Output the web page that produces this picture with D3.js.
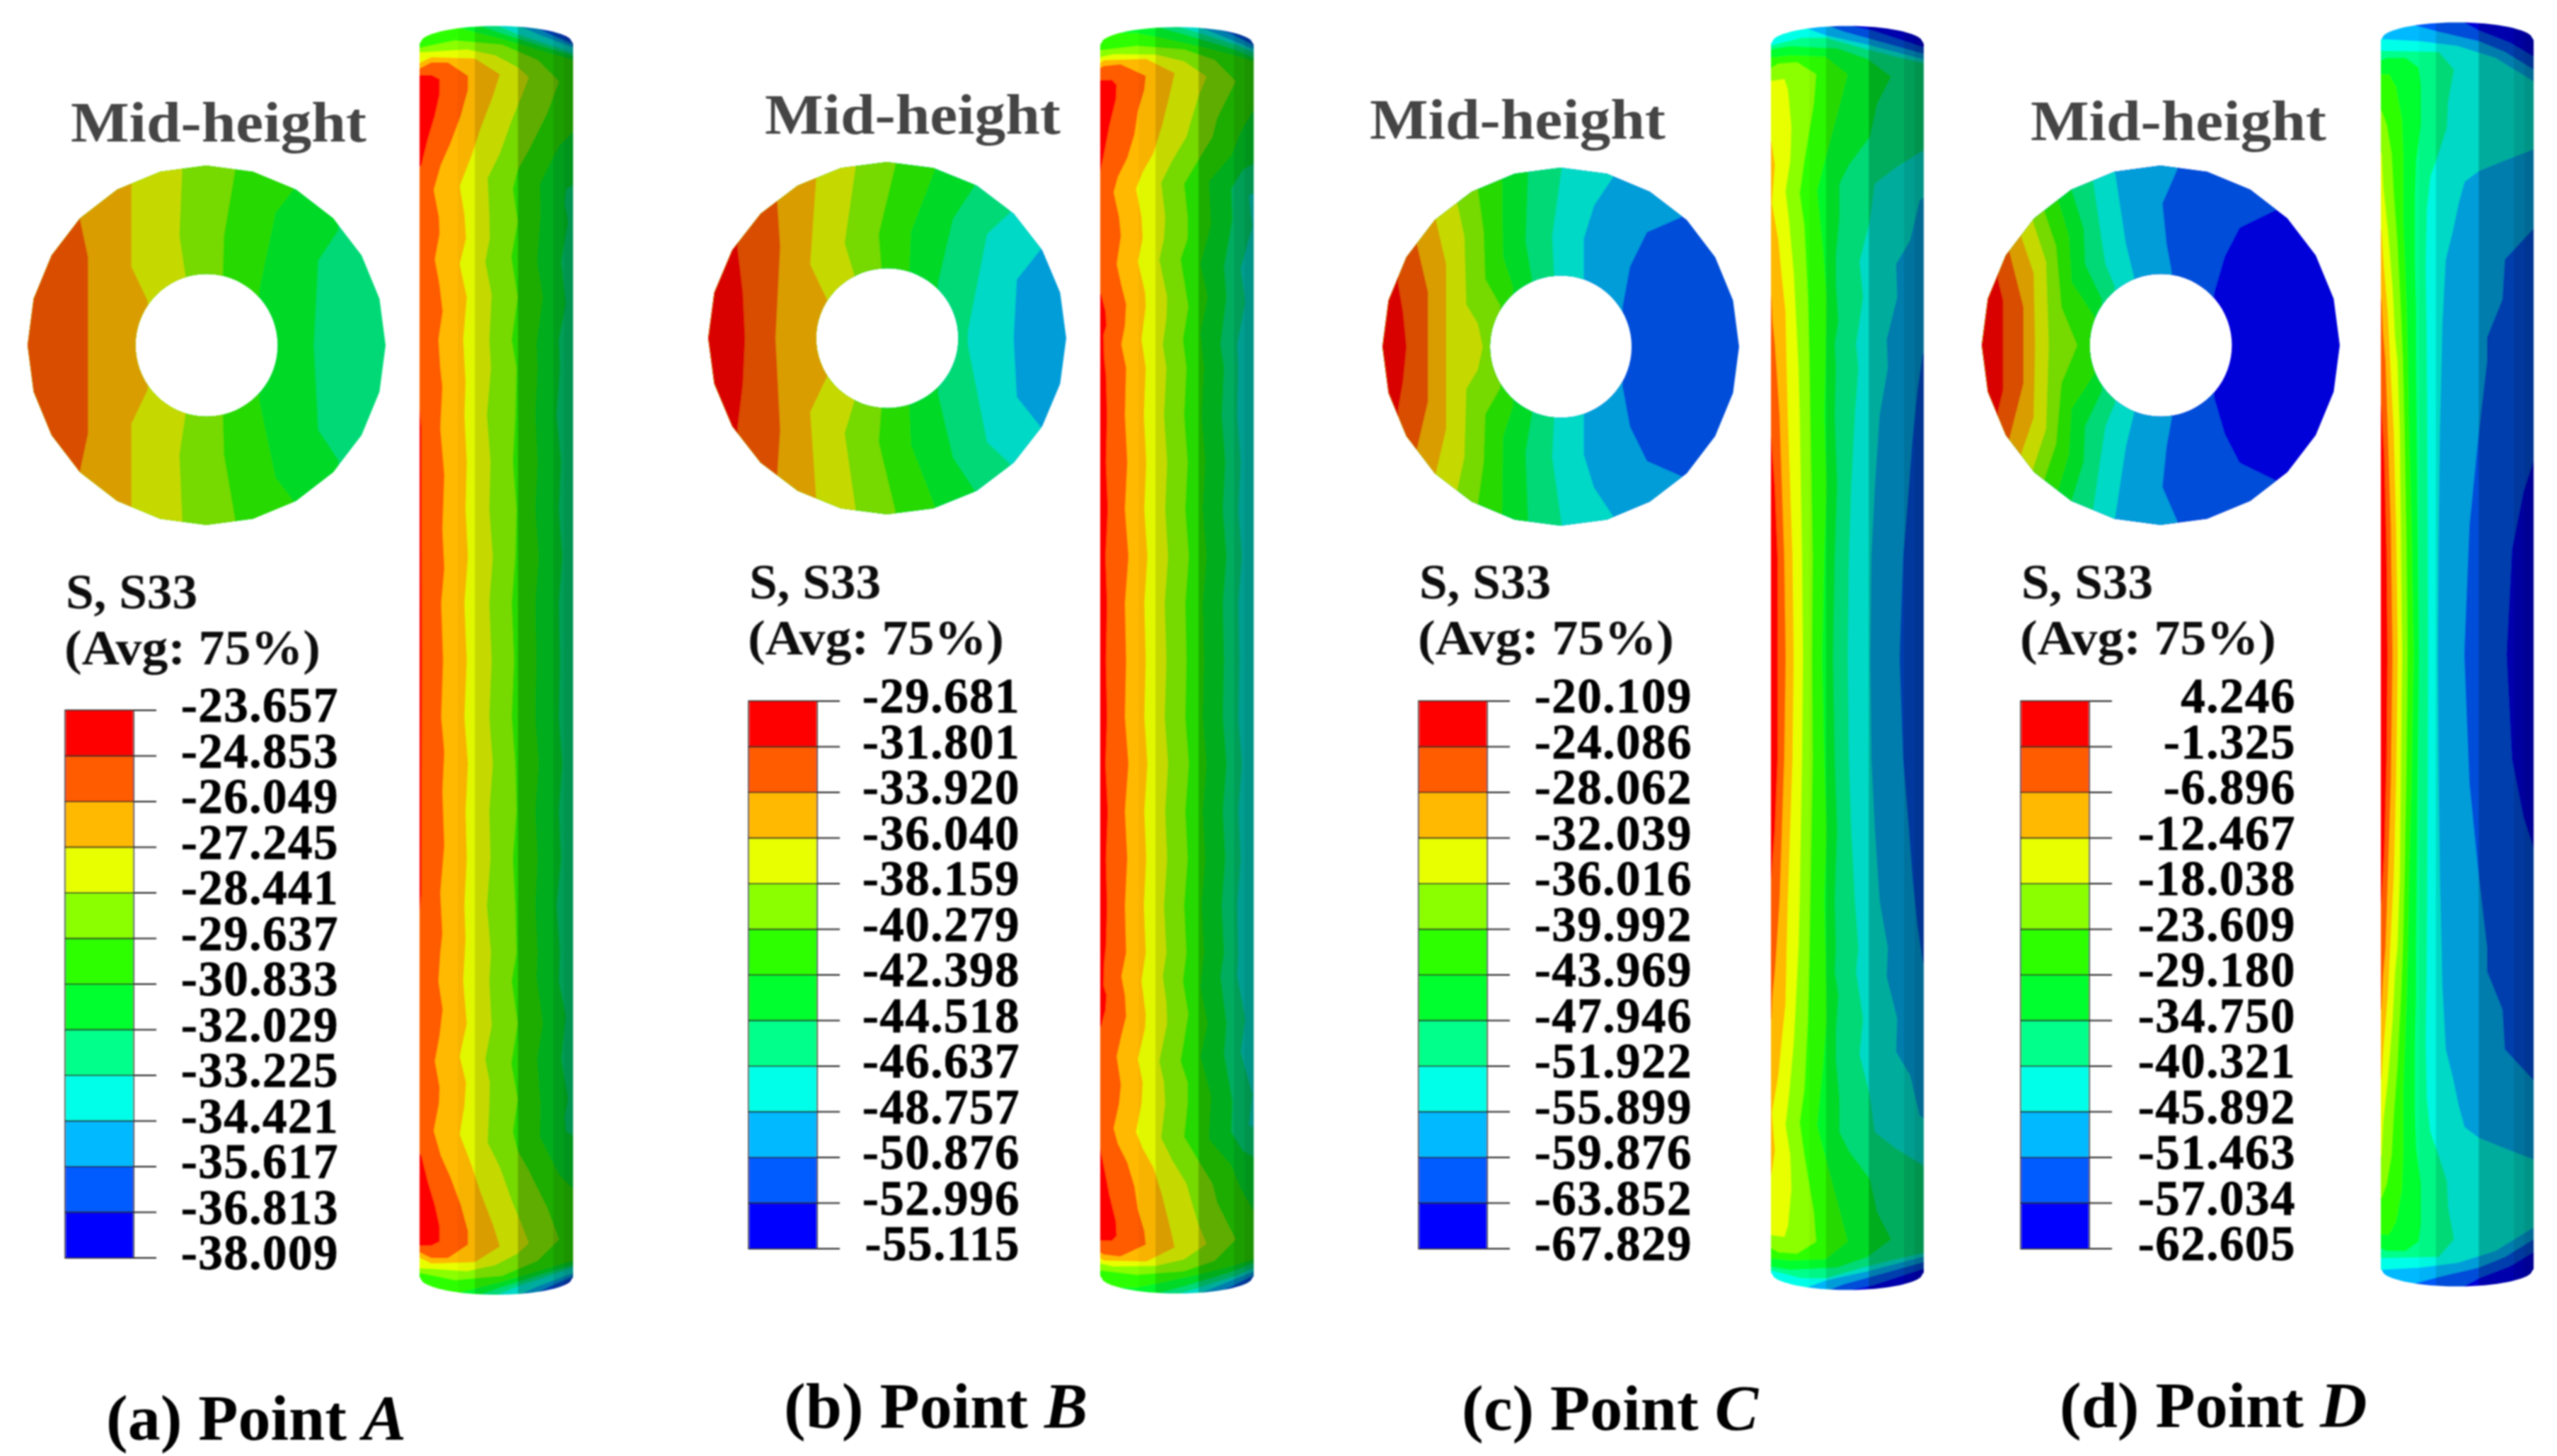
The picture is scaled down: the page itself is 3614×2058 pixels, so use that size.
<!DOCTYPE html>
<html>
<head>
<meta charset="utf-8">
<style>
  html, body { margin: 0; background: #fff; }
  text { font-family: "Liberation Serif", serif; font-weight: bold; }
</style>
</head>
<body>
<svg id="figure"></svg>
<script src="https://cdn.jsdelivr.net/npm/d3@7"></script>
<script>
// Contour band colours, hottest to coolest
const bandColors = ["#ff0000", "#ff5c00", "#ffb900", "#e8ff00", "#8bff00", "#2eff00",
    "#00ff2e", "#00ff8b", "#00ffe8", "#00b9ff", "#005cff", "#0000ff"];

// Legend labels
const legendA = ["-23.657", "-24.853", "-26.049", "-27.245", "-28.441", "-29.637", "-30.833", "-32.029", "-33.225", "-34.421", "-35.617", "-36.813", "-38.009"];
const legendB = ["-29.681", "-31.801", "-33.920", "-36.040", "-38.159", "-40.279", "-42.398", "-44.518", "-46.637", "-48.757", "-50.876", "-52.996", "-55.115"];
const legendC = ["-20.109", "-24.086", "-28.062", "-32.039", "-36.016", "-39.992", "-43.969", "-47.946", "-51.922", "-55.899", "-59.876", "-63.852", "-67.829"];
const legendD = ["4.246", "-1.325", "-6.896", "-12.467", "-18.038", "-23.609", "-29.180", "-34.750", "-40.321", "-45.892", "-51.463", "-57.034", "-62.605"];

// Mid-height section: band boundaries as [x, |y|] on the unit section
const ringA = [
    [[-.662, 0], [-.662, .49], [-.707, .70]],
    [[-.30, 0], [-.33, .25], [-.42, .437], [-.42, .894]],
    [[-.118, .384], [-.152, .61], [-.136, .98]],
    [[.09, .39], [.097, .61], [.159, .97]],
    [[.295, .31], [.385, .736], [.487, .868]],
    [[.60, 0], [.624, .47], [.737, .64]]
];
const ringB = [
    [[-.794, 0], [-.806, .26], [-.836, .512]],
    [[-.624, 0], [-.598, .52], [-.614, .77]],
    [[-.336, .218], [-.43, .419], [-.397, .904]],
    [[-.185, .36], [-.238, .54], [-.177, .97]],
    [[-.033, .397], [-.048, .59], [.047, .99]],
    [[.123, .39], [.133, .605], [.267, .957]],
    [[.285, .318], [.368, .677], [.489, .864]],
    [[.45, 0], [.452, .046], [.558, .59], [.686, .713]],
    [[.706, 0], [.724, .333], [.858, .505]]
];
const ringC = [
    [[-.865, 0], [-.884, .19], [-.912, .355]],
    [[-.745, 0], [-.745, .306], [-.806, .568]],
    [[-.643, 0], [-.643, .46], [-.70, .705]],
    [[-.438, 0], [-.466, .129], [-.53, .235], [-.541, .617], [-.58, .795]],
    [[-.339, .228], [-.424, .377], [-.433, .646], [-.466, .88]],
    [[-.268, .334], [-.324, .504], [-.329, .93]],
    [[-.161, .377], [-.197, .589], [-.183, .969]],
    [[-.037, .398], [-.048, .618], [.006, 1]],
    [[.129, .377], [.129, .603], [.186, .788], [.292, .946]],
    [[.346, .221], [.388, .448], [.483, .639], [.677, .724]]
];
const ringD = [
    [[-.88, 0], [-.88, .248], [-.909, .367]],
    [[-.767, 0], [-.767, .212], [-.846, .522]],
    [[-.702, 0], [-.71, .402], [-.778, .60]],
    [[-.626, 0], [-.641, .466], [-.713, .684]],
    [[-.467, 0], [-.555, .212], [-.585, .55], [-.649, .74]],
    [[-.369, .156], [-.498, .353], [-.513, .606], [-.57, .796]],
    [[-.328, .255], [-.422, .451], [-.43, .648], [-.498, .866]],
    [[-.256, .325], [-.309, .451], [-.339, .648], [-.377, .909]],
    [[-.15, .381], [-.195, .564], [-.256, .965]],
    [[.062, .402], [.032, .564], [.009, .789], [.092, .979]],
    [[.297, .29], [.357, .494], [.44, .655], [.644, .754]]
];

// Column surface: band boundaries as [across, along], top end down to mid-height
const columnA = [
    [[90, 258], [150, 258], [185, 275], [185, 340], [165, 430], [135, 530], [108, 640], [90, 660], [92, 1600], [108, 1750], [110, 2740]],
    [[90, 235], [150, 205], [220, 205], [305, 262], [305, 320], [275, 430], [230, 550], [190, 640], [160, 745], [182, 860], [185, 930], [165, 1040], [185, 1150], [198, 1260], [180, 1380], [188, 1500], [197, 1580], [188, 1754], [205, 1955], [197, 2183], [205, 2350], [192, 2500], [200, 2740]],
    [[90, 212], [150, 182], [335, 188], [440, 255], [410, 350], [360, 480], [320, 600], [270, 730], [290, 850], [297, 950], [270, 1060], [300, 1200], [285, 1380], [295, 1560], [290, 1700], [300, 1900], [295, 2100], [305, 2300], [290, 2500], [300, 2740]],
    [[90, 162], [150, 160], [300, 150], [420, 175], [515, 225], [562, 268], [535, 340], [490, 450], [440, 590], [388, 695], [395, 850], [397, 950], [378, 1050], [405, 1190], [395, 1380], [402, 1500], [385, 1700], [400, 1900], [395, 2100], [410, 2300], [395, 2500], [405, 2740]],
    [[90, 145], [250, 112], [450, 130], [600, 195], [690, 285], [640, 420], [560, 580], [515, 660], [495, 740], [515, 880], [488, 1030], [515, 1200], [490, 1380], [510, 1500], [505, 1700], [495, 1900], [510, 2100], [505, 2300], [490, 2500], [500, 2740]],
    [[200, 40], [330, 75], [450, 105], [600, 150], [770, 200], [770, 480], [690, 560], [610, 720], [612, 860], [598, 1050], [622, 1200], [595, 1400], [600, 1500], [590, 1700], [600, 1900], [590, 2100], [605, 2300], [590, 2500], [595, 2740]],
    [[330, 40], [450, 82], [600, 130], [770, 182], [770, 715], [722, 740], [715, 800], [730, 880], [700, 1050], [720, 1230], [690, 1380], [695, 1500], [680, 1700], [700, 1900], [690, 2100], [705, 2300], [690, 2500], [695, 2740]],
    [[410, 40], [515, 85], [650, 130], [770, 172], [770, 2740]],
    [[500, 40], [600, 85], [770, 150], [770, 2740]],
    [[560, 40], [650, 85], [770, 138], [770, 2740]],
    [[620, 40], [700, 85], [770, 128], [770, 2740]]
];
const columnB = [
    [[35, 280], [95, 278], [115, 300], [112, 360], [85, 470], [62, 590], [45, 670], [35, 680], [35, 1170], [50, 1190], [68, 1260], [72, 1320], [60, 1360], [62, 1450], [70, 1530], [75, 1700], [70, 1900], [78, 2100], [68, 2300], [75, 2500], [70, 2740]],
    [[35, 235], [60, 220], [130, 212], [180, 235], [238, 262], [232, 320], [205, 410], [190, 510], [160, 610], [120, 690], [102, 755], [125, 860], [133, 940], [115, 1060], [135, 1150], [155, 1230], [150, 1320], [135, 1400], [155, 1500], [150, 1700], [160, 1900], [150, 2100], [165, 2300], [150, 2500], [155, 2740]],
    [[35, 215], [60, 195], [240, 190], [360, 250], [340, 340], [305, 480], [270, 590], [225, 670], [197, 740], [220, 860], [225, 950], [205, 1050], [235, 1180], [238, 1240], [220, 1380], [238, 1500], [230, 1700], [240, 1900], [232, 2100], [245, 2300], [232, 2500], [238, 2740]],
    [[35, 185], [100, 170], [280, 172], [400, 200], [495, 265], [460, 350], [430, 450], [410, 520], [350, 620], [303, 715], [320, 860], [315, 950], [295, 1040], [328, 1200], [325, 1290], [310, 1400], [325, 1500], [315, 1700], [328, 1900], [320, 2100], [332, 2300], [318, 2500], [325, 2740]],
    [[35, 155], [200, 135], [400, 150], [530, 195], [618, 285], [580, 360], [540, 440], [520, 520], [465, 610], [400, 720], [415, 860], [415, 950], [385, 1040], [418, 1240], [395, 1380], [410, 1500], [400, 1700], [415, 1900], [405, 2100], [420, 2300], [405, 2500], [410, 2740]],
    [[200, 80], [300, 100], [460, 135], [600, 170], [710, 205], [710, 400], [695, 405], [640, 500], [600, 600], [505, 710], [515, 890], [470, 1060], [500, 1200], [470, 1350], [485, 1500], [475, 1700], [490, 1900], [480, 2100], [495, 2300], [480, 2500], [485, 2740]],
    [[270, 50], [400, 85], [600, 145], [710, 190], [710, 625], [650, 660], [600, 740], [605, 870], [570, 1070], [580, 1200], [555, 1400], [570, 1500], [560, 1700], [575, 1900], [565, 2100], [580, 2300], [565, 2500], [570, 2740]],
    [[350, 45], [480, 85], [620, 130], [710, 170], [710, 750], [675, 770], [690, 900], [640, 1080], [660, 1220], [625, 1400], [630, 1500], [625, 1700], [640, 1900], [630, 2100], [645, 2300], [630, 2500], [635, 2740]],
    [[440, 45], [540, 85], [710, 155], [710, 2740]],
    [[490, 40], [600, 85], [710, 140], [710, 2740]],
    [[550, 40], [650, 85], [710, 125], [710, 2740]]
];
const columnC = [
    [[58, 1750], [70, 1800], [85, 2000], [97, 2300], [97, 2730]],
    [[58, 1180], [70, 1200], [75, 1300], [85, 1400], [92, 1500], [105, 1700], [115, 2000], [125, 2300], [131, 2730]],
    [[58, 530], [70, 540], [85, 640], [72, 800], [100, 960], [115, 1120], [130, 1260], [135, 1500], [140, 1700], [150, 2000], [160, 2300], [165, 2730]],
    [[58, 285], [125, 275], [140, 320], [155, 480], [150, 620], [130, 750], [145, 880], [165, 1100], [175, 1300], [185, 1500], [190, 1700], [195, 2000], [200, 2300], [204, 2730]],
    [[58, 235], [100, 210], [180, 205], [260, 255], [250, 380], [210, 620], [190, 760], [210, 900], [225, 1200], [232, 1500], [235, 1700], [240, 2000], [245, 2300], [242, 2730]],
    [[58, 185], [150, 175], [300, 180], [395, 255], [365, 370], [330, 500], [290, 650], [265, 750], [280, 900], [290, 1000], [305, 1200], [300, 1500], [295, 1700], [305, 2000], [295, 2300], [286, 2730]],
    [[58, 150], [150, 135], [350, 145], [480, 190], [580, 265], [520, 380], [490, 520], [400, 640], [360, 720], [360, 860], [345, 1020], [345, 1150], [355, 1300], [340, 1400], [345, 1500], [340, 1700], [350, 2000], [340, 2300], [333, 2730]],
    [[58, 135], [200, 100], [300, 100], [480, 150], [600, 180], [730, 210], [730, 570], [600, 650], [510, 720], [488, 880], [445, 1050], [460, 1200], [430, 1400], [440, 1500], [425, 1700], [410, 2000], [400, 2300], [395, 2730]],
    [[220, 60], [300, 90], [480, 130], [730, 195], [730, 770], [700, 790], [660, 960], [600, 1060], [605, 1200], [560, 1380], [565, 1500], [530, 1700], [510, 2000], [495, 2300], [490, 2730]],
    [[300, 45], [380, 75], [490, 105], [730, 172], [730, 1400], [712, 1450], [690, 1600], [670, 1800], [655, 2000], [630, 2300], [615, 2730]],
    [[385, 45], [500, 70], [730, 145], [730, 2730]]
];
const columnD = [
    [[65, 1650], [78, 1700], [90, 1900], [100, 2300], [104, 2745]],
    [[65, 1230], [78, 1240], [85, 1380], [95, 1500], [105, 1800], [118, 2200], [125, 2745]],
    [[65, 935], [78, 945], [85, 1060], [105, 1300], [115, 1500], [130, 1800], [140, 2200], [147, 2745]],
    [[65, 610], [78, 620], [85, 760], [105, 950], [125, 1200], [135, 1400], [145, 1500], [155, 1800], [165, 2745]],
    [[65, 430], [78, 440], [100, 500], [120, 620], [130, 800], [145, 1000], [160, 1300], [168, 1500], [175, 1800], [182, 2200], [188, 2745]],
    [[65, 285], [110, 285], [140, 340], [165, 480], [170, 620], [170, 900], [178, 1100], [185, 1300], [190, 1500], [195, 1800], [205, 2200], [214, 2745]],
    [[65, 230], [100, 215], [180, 215], [235, 255], [245, 330], [245, 500], [225, 650], [220, 800], [220, 1100], [225, 1300], [225, 1500], [228, 1800], [232, 2200], [237, 2745]],
    [[65, 185], [320, 190], [385, 265], [360, 400], [355, 510], [320, 620], [285, 720], [270, 860], [265, 1100], [268, 1300], [270, 1500], [272, 1800], [274, 2200], [276, 2745]],
    [[65, 135], [240, 145], [400, 165], [560, 215], [730, 320], [730, 600], [600, 650], [490, 695], [430, 740], [405, 830], [380, 950], [350, 1070], [335, 1350], [332, 1500], [325, 1800], [320, 2200], [316, 2745]],
    [[210, 75], [320, 105], [490, 145], [600, 190], [730, 270], [730, 930], [600, 1070], [590, 1240], [525, 1400], [525, 1500], [490, 1800], [450, 2200], [428, 2745]],
    [[400, 50], [490, 100], [620, 150], [730, 215], [730, 1900], [680, 2050], [630, 2300], [620, 2500], [607, 2745]]
];

// Facets of the column surface: start across the width, and how much it is dimmed
const facetStarts = [0, .25, .36, .64, .87, .94];
const facetDim = [0, .03, .15, .32, .38, .42];

const panels = [
    { letter: "a", point: "A", legend: legendA, ring: ringA, ringFirst: 1, column: columnA,
      barX: 92, barTop: 1004, titleY: 860, labelEnd: 479,
      midX: 100, midY: 200, ringC: [292, 488], ringR: [253, 254],
      acrossRead: [100, 750], acrossPx: [593, 810], cropY: 20, midRead: 2740, shoulderRead: 125,
      captionX: 150, captionY: 2035 },
    { letter: "b", point: "B", legend: legendB, ring: ringB, ringFirst: 0, column: columnB,
      barX: 1058, barTop: 991, titleY: 846, labelEnd: 1442,
      midX: 1081, midY: 189, ringC: [1254, 478], ringR: [253, 249],
      acrossRead: [45, 695], acrossPx: [1555, 1772], cropY: 20, midRead: 2740, shoulderRead: 130,
      captionX: 1108, captionY: 2018 },
    { letter: "c", point: "C", legend: legendC, ring: ringC, ringFirst: 0, column: columnC,
      barX: 2005, barTop: 991, titleY: 846, labelEnd: 2392,
      midX: 1936, midY: 196, ringC: [2206, 490], ringR: [252, 253],
      acrossRead: [68, 718], acrossPx: [2503, 2719], cropY: 20, midRead: 2730, shoulderRead: 125,
      captionX: 2066, captionY: 2021 },
    { letter: "d", point: "D", legend: legendD, ring: ringD, ringFirst: 0, column: columnD,
      barX: 2856, barTop: 991, titleY: 846, labelEnd: 3245,
      midX: 2870, midY: 198, ringC: [3054, 488], ringR: [253, 254],
      acrossRead: [75, 722], acrossPx: [3365, 3581], cropY: 10, midRead: 2745, shoulderRead: 140,
      captionX: 2911, captionY: 2017 }
];

const width = 3614, height = 2058;
const svg = d3.select("#figure").attr("width", width).attr("height", height);

// The reference is a soft upscaled image, a slight blur brings that back
svg.append("defs").append("filter").attr("id", "soft")
    .append("feGaussianBlur").attr("stdDeviation", 1.1);

const line = d3.line();
const dim = (c, k) => { const r = d3.rgb(c); return d3.rgb(r.r * k, r.g * k, r.b * k).formatHex(); };

const root = svg.append("g").attr("filter", "url(#soft)");

panels.forEach(function(p) {
    const g = root.append("g");
    drawRing(g, p);
    drawColumn(g, p);
    drawLegend(g, p);

    g.append("text").text("Mid-height")
        .attr("x", p.midX).attr("y", p.midY)
        .attr("font-size", 81).attr("fill", "#444")
        .attr("textLength", 418).attr("lengthAdjust", "spacingAndGlyphs");

    const caption = g.append("text")
        .attr("x", p.captionX).attr("y", p.captionY)
        .attr("font-size", 92).attr("fill", "#000");
    caption.append("tspan").text("(" + p.letter + ") Point ");
    caption.append("tspan").text(p.point).attr("font-style", "italic");
});

// Section at mid-height, a 24-sided ring cut by the band boundaries
function drawRing(g, p) {
    const x = d3.scaleLinear().domain([-1, 1]).range([p.ringC[0] - p.ringR[0], p.ringC[0] + p.ringR[0]]);
    const y = d3.scaleLinear().domain([-1, 1]).range([p.ringC[1] + p.ringR[1], p.ringC[1] - p.ringR[1]]);
    const id = "ring-" + p.letter;

    const polygon = (r, n) => d3.range(n).map(i => {
        const a = i / n * 2 * Math.PI;
        return [x(r * Math.sin(a)), y(r * Math.cos(a))];
    });
    const outline = line(polygon(1, 24)) + "Z" + line(polygon(.397, 72)) + "Z";
    g.append("clipPath").attr("id", id).append("path")
        .attr("d", outline).attr("clip-rule", "evenodd");

    const section = g.append("g").attr("clip-path", "url(#" + id + ")");
    const n = p.ring.length;
    section.append("rect")
        .attr("x", x(-1.1)).attr("y", y(1.1))
        .attr("width", x(1.1) - x(-1.1)).attr("height", y(-1.1) - y(1.1))
        .attr("fill", dim(bandColors[p.ringFirst + n], .85));

    // hottest region last, each one covers everything to the left of its boundary
    d3.range(n - 1, -1, -1).forEach(function(k) {
        const b = p.ring[k];
        const last = b[b.length - 1];
        const upper = b.map(d => [x(d[0]), y(d[1])]);
        upper.push([x(last[0]), y(1.2)]);
        const lower = b.map(d => [x(d[0]), y(-d[1])]).reverse();
        lower.unshift([x(last[0]), y(-1.2)]);
        const shape = lower.concat(upper, [[x(-1.2), y(1.2)], [x(-1.2), y(-1.2)]]);
        section.append("path")
            .attr("d", line(shape) + "Z")
            .attr("fill", dim(bandColors[p.ringFirst + k], .85));
    });
}

function drawColumn(g, p) {
    const x = d3.scaleLinear().domain(p.acrossRead).range(p.acrossPx);
    const end = p.midRead * 2;
    const y = d3.scaleLinear().domain([0, end]).range([p.cropY, p.cropY + end / 3]);
    const u = d3.scaleLinear().domain([0, 1]).range(p.acrossRead);
    const rise = 75;
    const id = "column-" + p.letter;

    // outline: rounded ends on a straight shaft
    const arc = d3.range(0, 1.0001, .02).map(t => [t, Math.sqrt(Math.max(0, 1 - (2 * t - 1) ** 2))]);
    const topEdge = arc.map(d => [x(u(d[0])), y(p.shoulderRead - rise * d[1])]);
    const bottomEdge = arc.map(d => [x(u(d[0])), y(end - p.shoulderRead + rise * d[1])]).reverse();
    g.append("clipPath").attr("id", id).append("path")
        .attr("d", line(topEdge.concat(bottomEdge)) + "Z");

    const body = g.append("g").attr("clip-path", "url(#" + id + ")");
    body.append("rect")
        .attr("x", p.acrossPx[0]).attr("y", y(0))
        .attr("width", p.acrossPx[1] - p.acrossPx[0]).attr("height", y(end) - y(0))
        .attr("fill", bandColors[p.column.length]);

    const offX = p.acrossRead[0] - 100;
    d3.range(p.column.length - 1, -1, -1).forEach(function(k) {
        const c = p.column[k];
        const down = c.map(d => [x(d[0]), y(d[1])]);
        const up = c.map(d => [x(d[0]), y(end - d[1])]).reverse();
        const closing = [[x(offX), y(end - c[0][1])], [x(offX), y(c[0][1])]];
        body.append("path")
            .attr("d", line(down.concat(up, closing)) + "Z")
            .attr("fill", bandColors[k]);
    });

    // vertical facets get darker towards the right
    facetStarts.forEach(function(s, i) {
        const next = i + 1 < facetStarts.length ? facetStarts[i + 1] : 1;
        body.append("rect")
            .attr("x", x(u(s))).attr("y", y(0))
            .attr("width", x(u(next)) - x(u(s))).attr("height", y(end) - y(0))
            .attr("fill", "#000").attr("fill-opacity", facetDim[i]);
    });
}

function drawLegend(g, p) {
    const levels = d3.range(p.legend.length);
    const y = d3.scaleLinear().domain([0, 12]).range([p.barTop, p.barTop + 774]);
    const barWidth = 97, tickEnd = 129;

    g.selectAll(null).data(bandColors).enter().append("rect")
        .attr("x", p.barX).attr("y", (d, i) => y(i))
        .attr("width", barWidth).attr("height", y(1) - y(0))
        .attr("fill", d => d);
    g.append("rect")
        .attr("x", p.barX).attr("y", y(0))
        .attr("width", barWidth).attr("height", y(12) - y(0))
        .attr("fill", "none").attr("stroke", "#555").attr("stroke-width", 2);

    g.selectAll(null).data(levels).enter().append("line")
        .attr("x1", p.barX).attr("x2", p.barX + tickEnd)
        .attr("y1", d => y(d)).attr("y2", d => y(d))
        .attr("stroke", "#222").attr("stroke-width", 2);

    g.selectAll(null).data(p.legend).enter().append("text")
        .text(d => d)
        .attr("x", p.labelEnd).attr("y", (d, i) => y(i) + 16)
        .attr("text-anchor", "end").attr("font-size", 69)
        .attr("letter-spacing", 1.5).attr("fill", "#000")
        .attr("stroke", "#000").attr("stroke-width", .8);

    g.append("text").text("S, S33")
        .attr("x", p.barX + 1).attr("y", p.titleY)
        .attr("font-size", 69).attr("fill", "#111")
        .attr("textLength", 186).attr("lengthAdjust", "spacingAndGlyphs");
    g.append("text").text("(Avg: 75%)")
        .attr("x", p.barX - 1).attr("y", p.titleY + 79)
        .attr("font-size", 69).attr("fill", "#111")
        .attr("textLength", 362).attr("lengthAdjust", "spacingAndGlyphs");
}
</script>
</body>
</html>
